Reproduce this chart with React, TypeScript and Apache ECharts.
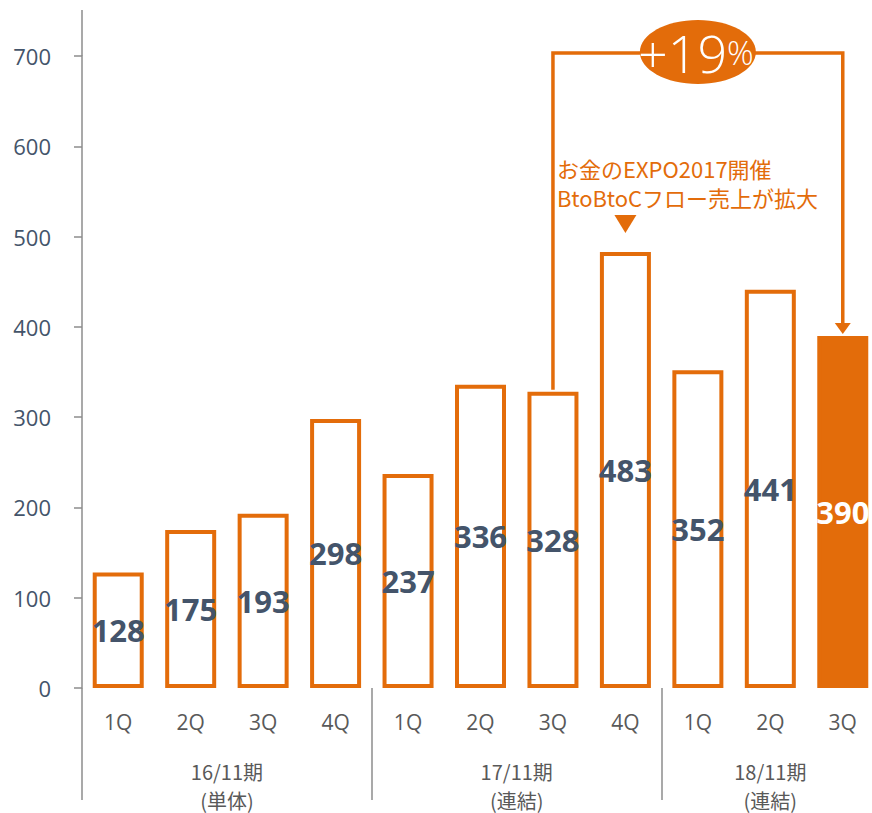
import React, { useEffect, useRef } from 'react';
import * as echarts from 'echarts';

const quarters = ['1Q', '2Q', '3Q', '4Q', '1Q', '2Q', '3Q', '4Q', '1Q', '2Q', '3Q'];
const sales = [128, 175, 193, 298, 237, 336, 328, 483, 352, 441, 390];
const yMin = 0;
const yMax = 700;
const yStep = 100;
const periodNames = ['16/11期', '17/11期', '18/11期'];
const periodKinds = ['(単体)', '(連結)', '(連結)'];
const periodStarts = [0, 4, 8];
const periodEnds = [3, 7, 10];
const highlightIndex = 10;
const compareFrom = 6;
const compareTo = 10;
const growthNumber = '+19';
const growthUnit = '%';
const noteLines = ['お金のEXPO2017開催', 'BtoBtoCフロー売上が拡大'];
const noteIndex = 7;

const ORANGE = '#E36C0A';
const DARK = '#44546A';
const GREY = '#595959';
const AXIS = '#8C8C8C';
const FONT = "'Open Sans', 'Noto Sans CJK JP', sans-serif";
const CJK = "'Noto Sans CJK JP', 'Open Sans', sans-serif";

export default function App() {
  const ref = useRef<HTMLDivElement>(null);
  useEffect(() => {
    if (!ref.current) return;
    const chart = echarts.init(ref.current, undefined, { renderer: 'svg' });
    chart.setOption({
      animation: false,
      grid: { left: 82, top: 56, width: 797, bottom: 125, containLabel: false },
      xAxis: {
        type: 'category',
        data: quarters,
        axisLine: { show: false },
        axisTick: {
          show: true,
          interval: (i: number) => periodStarts.includes(i),
          length: 112,
          lineStyle: { color: AXIS, width: 1.5 },
        },
        axisLabel: { color: GREY, fontSize: 21, margin: 23, fontFamily: FONT },
      },
      yAxis: {
        type: 'value',
        min: yMin,
        max: yMax,
        interval: yStep,
        axisLine: { show: true, lineStyle: { color: AXIS, width: 1.5 } },
        axisTick: { show: true, length: 8, lineStyle: { color: AXIS, width: 1.5 } },
        splitLine: { show: false },
        axisLabel: { color: DARK, fontSize: 22, margin: 31, fontFamily: FONT },
      },
      series: [
        {
          type: 'bar',
          barWidth: 51,
          data: sales.map((v, i) => ({
            value: v,
            itemStyle: { color: i === highlightIndex ? ORANGE : '#FFFFFF' },
            label: { color: i === highlightIndex ? '#FFFFFF' : DARK },
          })),
          itemStyle: { borderColor: ORANGE, borderWidth: 4 },
          label: {
            show: true,
            position: 'inside',
            fontSize: 31,
            fontWeight: 'bold',
            fontFamily: FONT,
            color: DARK,
          },
        },
      ],
    });

    const px = (i: number, v: number) =>
      chart.convertToPixel({ xAxisIndex: 0, yAxisIndex: 0 }, [i, v]) as number[];
    const [x0, y0] = px(compareFrom, sales[compareFrom]);
    const [x1, y1] = px(compareTo, sales[compareTo]);
    const [, axTop] = px(0, yMax);
    const gridLeft = 82;
    const yTop = axTop - 3;
    const [nx] = px(noteIndex, sales[noteIndex]);
    const [, yBase] = px(0, 0);

    const graphic: any[] = [
      {
        type: 'line',
        shape: { x1: gridLeft, y1: 10, x2: gridLeft, y2: axTop },
        style: { stroke: AXIS, lineWidth: 1.5 },
      },
      {
        type: 'polyline',
        shape: {
          points: [
            [x0, y0 - 2],
            [x0, yTop],
            [x1, yTop],
            [x1, y1 - 12],
          ],
        },
        style: { stroke: ORANGE, lineWidth: 3.5, fill: null },
      },
      {
        type: 'polygon',
        shape: {
          points: [
            [x1 - 8, y1 - 13],
            [x1 + 8, y1 - 13],
            [x1, y1 - 2],
          ],
        },
        style: { fill: ORANGE },
      },
      {
        type: 'ellipse',
        shape: { cx: (x0 + x1) / 2, cy: yTop - 1, rx: 58, ry: 32 },
        style: { fill: ORANGE },
      },
      {
        type: 'text',
        x: (x0 + x1) / 2 - 2,
        y: yTop - 1,
        style: {
          text: `{a|${growthNumber}}{b|${growthUnit}}`,
          align: 'center',
          verticalAlign: 'middle',
          rich: {
            a: { fontSize: 52, fill: '#FFFFFF', fontFamily: FONT, fontWeight: 300 },
            b: { fontSize: 33, fill: '#FFFFFF', fontFamily: FONT, fontWeight: 300 },
          },
        },
      },
      {
        type: 'text',
        x: x0 + 4,
        y: 168,
        style: {
          text: noteLines[0],
          fill: ORANGE,
          fontSize: 22,
          fontFamily: CJK,
          align: 'left',
          verticalAlign: 'middle',
        },
      },
      {
        type: 'text',
        x: x0 + 4,
        y: 197,
        style: {
          text: noteLines[1],
          fill: ORANGE,
          fontSize: 22,
          fontFamily: CJK,
          align: 'left',
          verticalAlign: 'middle',
        },
      },
      {
        type: 'polygon',
        shape: {
          points: [
            [nx - 11, 215],
            [nx + 11, 215],
            [nx, 233],
          ],
        },
        style: { fill: ORANGE },
      },
    ];

    periodNames.forEach((name, k) => {
      const a = px(periodStarts[k], 0)[0];
      const b = px(periodEnds[k], 0)[0];
      [name, periodKinds[k]].forEach((t, j) => {
        graphic.push({
          type: 'text',
          x: (a + b) / 2,
          y: yBase + 83 + j * 29,
          style: {
            text: t,
            fill: GREY,
            fontSize: 20,
            fontFamily: CJK,
            align: 'center',
            verticalAlign: 'middle',
          },
        });
      });
    });

    chart.setOption({ graphic });
    return () => chart.dispose();
  }, []);
  return (
    <div
      ref={ref}
      style={{ position: 'fixed', left: 0, top: 0, width: 880, height: 813, background: '#fff' }}
    />
  );
}
